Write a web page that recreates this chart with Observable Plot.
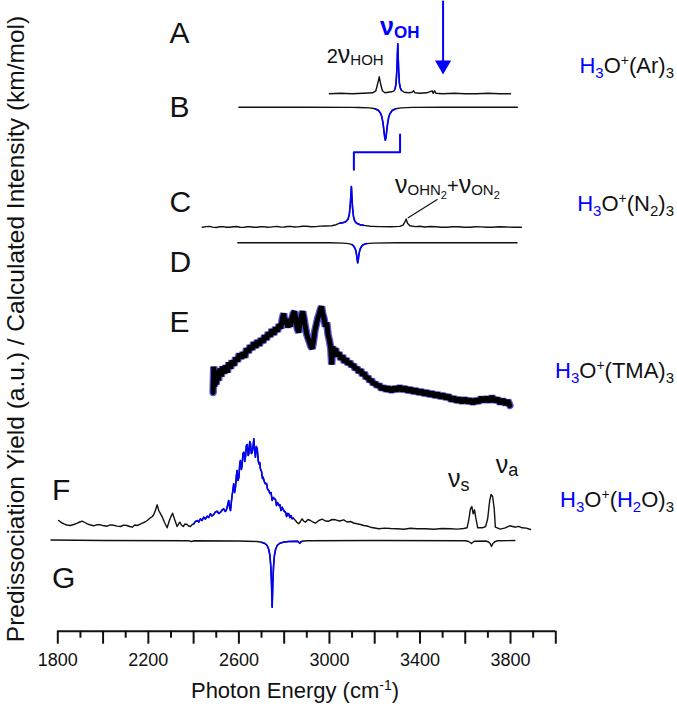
<!DOCTYPE html>
<html>
<head>
<meta charset="utf-8">
<script src="https://cdn.jsdelivr.net/npm/d3@7"></script>
<script src="https://cdn.jsdelivr.net/npm/@observablehq/plot@0.6"></script>
<style>
  html, body { margin: 0; padding: 0; background: #fff; }
  #chart svg { display: block; }
</style>
</head>
<body>
<div id="chart"></div>
<script>
// ---------------- DATA (wavenumber cm^-1, intensity a.u.) ----------------
// A: H3O+(Ar)3 experiment
const specA = [[3000,0],[3050,0.5],[3100,0],[3150,0.5],[3190,1],[3205,3],[3213,10],[3220,17],[3227,9],[3234,3],[3245,1],[3260,1.5],[3275,2],[3285,3],[3290,5],[3294,10],[3298,24],[3300,38],[3302,50],[3304,36],[3306,22],[3309,11],[3313,6],[3318,3.5],[3330,1.5],[3350,1],[3365,1.5],[3372,3],[3378,1],[3400,0.5],[3430,1],[3454,3],[3458,0.5],[3465,3],[3470,0.5],[3500,0],[3550,0.5],[3600,0],[3650,0],[3700,0.5],[3750,0],[3800,0]];
// B: H3O+(Ar)3 calculated
const specB = [[2600,0],[2900,0],[3100,-0.2],[3130,-0.3],[3177,-0.7],[3202,-1.6],[3217,-3.3],[3227,-6.6],[3232,-10],[3237,-16.5],[3242,-26],[3244,-30],[3247,-33],[3250,-30],[3252,-26],[3257,-16.5],[3262,-10],[3267,-6.6],[3277,-3.3],[3292,-1.6],[3317,-0.7],[3367,-0.2],[3500,0],[3830,0]];
// C: H3O+(N2)3 experiment
const specC = [[2438,0],[2455,0.6],[2470,0.8],[2485,0.1],[2500,-0.3],[2515,0.4],[2530,0.6],[2545,-0.1],[2560,0],[2575,0.5],[2590,0.7],[2605,0],[2620,-0.2],[2635,0.4],[2650,0.5],[2665,-0.1],[2680,0],[2695,0.5],[2710,0.6],[2725,0],[2740,0.1],[2755,0.6],[2770,0.7],[2785,0.1],[2800,0.2],[2815,0.7],[2830,0.8],[2845,0.2],[2860,0.3],[2880,0.9],[2900,0.9],[2920,0.4],[2940,0.6],[2960,1.1],[2980,1.2],[3010,1.5],[3030,2.5],[3045,4],[3060,4.5],[3072,5.5],[3082,8],[3088,13],[3092,22],[3095,33],[3097,40.7],[3099,32],[3102,20],[3106,11],[3112,6],[3120,4],[3135,2.5],[3152,1.8],[3180,1],[3220,0.6],[3270,0.5],[3310,0.8],[3325,2],[3333,5],[3339,8.3],[3345,4],[3355,1.5],[3380,0.6],[3400,0.9],[3420,0.2],[3445,0.7],[3470,0.5],[3495,-0.1],[3520,0],[3545,0.5],[3570,0.4],[3595,-0.1],[3620,0],[3645,0.5],[3670,0.3],[3695,-0.1],[3720,0],[3750,0.4],[3780,0.2],[3815,-0.1],[3848,0]];
// D: H3O+(N2)3 calculated
const specD = [[2595,0],[3000,0],[3060,-0.3],[3085,-0.8],[3100,-1.8],[3108,-3.5],[3113,-5.5],[3117,-8.5],[3120,-12],[3122,-16],[3125,-20],[3128,-16],[3130,-12],[3133,-8.5],[3137,-5.5],[3142,-3.5],[3150,-1.8],[3165,-0.8],[3190,-0.3],[3300,0],[3829,0]];
// E: H3O+(TMA)3 experiment
const specE = [[2486,19],[2489,45],[2492,25],[2496,41],[2500,27],[2505,40],[2510,31],[2516,43],[2522,35],[2528,45],[2535,38],[2542,46],[2549,39],[2556,49],[2563,43],[2570,51],[2578,46],[2586,54],[2594,50],[2602,58],[2610,53],[2618,59],[2626,54],[2634,63],[2642,59],[2650,66],[2658,62],[2666,69],[2674,64],[2682,71],[2690,66],[2698,73],[2706,69],[2714,76],[2722,72],[2730,79],[2738,75],[2746,82],[2754,77],[2762,84],[2770,80],[2778,87],[2785,83],[2792,93],[2798,98],[2804,87],[2810,93],[2816,84],[2822,91],[2828,85],[2834,93],[2840,98],[2846,100],[2852,91],[2858,83],[2864,79],[2870,89],[2876,96],[2882,100],[2888,93],[2894,84],[2900,77],[2906,73],[2912,69],[2918,65],[2924,63],[2930,71],[2936,81],[2942,87],[2948,93],[2954,97],[2960,102],[2965,105],[2970,98],[2976,93],[2982,85],[2988,89],[2994,77],[3000,71],[3006,63],[3010,47],[3014,65],[3020,59],[3027,63],[3034,55],[3042,59],[3050,52],[3058,56],[3066,49],[3074,53],[3082,47],[3090,50],[3098,45],[3106,47],[3114,42],[3122,44],[3130,39],[3138,42],[3146,36],[3154,39],[3162,33],[3170,35],[3178,30],[3186,32],[3194,27],[3202,29],[3210,25],[3220,27],[3230,22],[3240,25],[3250,21],[3262,24],[3274,20],[3286,24],[3298,21],[3310,25],[3322,21],[3334,24],[3346,20],[3358,23],[3370,19],[3382,22],[3394,18],[3406,21],[3418,17],[3430,20],[3442,16],[3454,19],[3466,15],[3478,18],[3490,14],[3502,17],[3514,13],[3526,16],[3538,11],[3550,14],[3562,10],[3574,13],[3586,9],[3598,13],[3610,9],[3622,12],[3634,8],[3646,12],[3658,9],[3670,14],[3682,10],[3694,14],[3706,10],[3718,15],[3730,10],[3742,13],[3754,8],[3766,12],[3778,7],[3788,11],[3797,6]];
// F: H3O+(H2O)3 experiment
const specF = [[1804,5],[1815,3],[1827,1.7],[1840,0.5],[1856,0],[1870,1],[1886,2.3],[1897,3.5],[1908,4.3],[1919,3],[1930,1.7],[1945,0.5],[1959,-0.3],[1974,0.8],[1989,0.7],[2003,-0.3],[2018,-0.7],[2032,0.6],[2047,0.3],[2062,-0.6],[2077,-1],[2091,0.4],[2106,0],[2118,-1],[2129,-1.7],[2140,0.5],[2151,0],[2162,1.2],[2173,2.3],[2185,3.5],[2195,5],[2209,7.7],[2218,9],[2224,11],[2232,15.7],[2239,20.7],[2246,15],[2254,11.7],[2262,8.3],[2271,3.3],[2283,-2.3],[2293,5],[2300,9],[2307,12.3],[2315,6.7],[2327,-1],[2339,3.3],[2346,0.5],[2354,-1],[2362,1.5],[2371,1],[2378,-0.5],[2386,-1],[2394,1],[2401,1.7],[2408,4],[2416,5],[2423,3.5],[2430,6.7],[2437,5],[2445,8.3],[2452,6.5],[2460,9.3],[2467,8],[2474,11.7],[2481,9.5],[2489,11],[2496,13.5],[2504,14.3],[2511,12],[2519,13.3],[2526,15.5],[2533,16.7],[2540,14],[2545,15.7],[2550,20],[2555,25],[2559,18],[2563,15],[2567,24],[2570,30],[2574,36],[2577,41.7],[2581,33],[2585,38.3],[2589,50],[2592,55],[2596,45],[2600,48.3],[2604,62],[2607,65],[2611,56],[2614,60],[2618,72],[2622,73.3],[2626,64],[2629,68.3],[2633,80],[2637,81],[2641,70],[2644,71.7],[2648,84],[2651,82.3],[2655,72],[2659,73.3],[2663,80],[2666,86.7],[2670,74],[2673,68.3],[2677,79],[2681,76.7],[2685,66],[2688,61.7],[2692,63],[2695,56.7],[2700,54],[2704,47],[2707,48.3],[2712,44],[2717,41.7],[2722,42],[2727,36],[2732,35],[2737,32],[2742,33],[2747,25],[2752,28],[2757,27],[2762,25.7],[2766,20],[2771,23],[2776,20],[2781,21],[2786,15],[2791,18.3],[2796,16],[2801,14],[2806,13.3],[2811,9],[2815,12],[2820,11.7],[2825,8],[2830,10],[2835,6.7],[2840,7.5],[2850,5],[2857,3],[2864,1.7],[2872,4],[2879,6.7],[2886,4.5],[2894,3.3],[2905,6],[2916,5],[2927,3.5],[2938,2.3],[2953,5],[2968,6.3],[2982,4.5],[2997,4.3],[3012,6],[3027,5.7],[3045,4.5],[3063,5.7],[3078,3.5],[3093,4],[3107,2.5],[3122,1.7],[3137,1],[3152,0],[3166,-0.5],[3181,-1.7],[3200,-2.5],[3218,-3.3],[3245,-2.6],[3270,-3],[3300,-3.2],[3328,-3.7],[3358,-2.8],[3387,-3.3],[3425,-3.2],[3461,-3.7],[3498,-3],[3535,-3.3],[3565,-3.6],[3593,-3],[3608,-2.3],[3615,5],[3623,16.7],[3629,19],[3635,11.7],[3641,15.7],[3646,8.3],[3655,-2.3],[3675,-2.3],[3690,-1],[3699,6.7],[3708,25],[3714,31],[3721,29],[3728,16.7],[3733,-1.7],[3755,-3.7],[3777,-2.3],[3796,-0.3],[3810,-1],[3822,-1.7],[3836,-0.8],[3851,-2.3],[3870,-2.6],[3888,-4]];
// G: H3O+(H2O)3 calculated
const specG = [[1770,0.5],[2000,0],[2380,-0.3],[2390,-1],[2400,-0.3],[2600,-0.5],[2680,-1],[2700,-1.8],[2715,-3],[2725,-5],[2732,-9],[2737,-15],[2741,-26],[2744,-42],[2747,-66.7],[2750,-42],[2753,-26],[2757,-15],[2762,-9],[2769,-5],[2779,-3],[2794,-1.8],[2820,-1],[2860,-0.8],[2866,-2],[2869,-2.8],[2873,-1.5],[2880,-0.7],[2900,-0.3],[3200,0],[3600,-0.2],[3615,-1],[3622,-2],[3627,-3],[3632,-2],[3640,-0.8],[3690,-0.5],[3703,-1.5],[3710,-3],[3716,-6],[3722,-3],[3729,-1.5],[3740,-0.3],[3819,0]];

// Wavenumber windows drawn in blue (the highlighted bands)
const blueBands = {A: [3289, 3318], B: [3200, 3295], C: [3040, 3156], D: [3090, 3166], F: [2398, 2842], G: [2690, 2895]};
// Annotation anchors (cm^-1)
const arrowWn = 3502;
const bracketWn = [3312, 3108];
const combWn = [3348, 3476];
const tickMajor = d3.range(1800, 4001, 200);
const tickMinor = d3.range(1900, 4000, 200);
const tickLabels = ["1800", "2200", "2600", "3000", "3400", "3800"];

// ---------------- LAYOUT ----------------
const FONT = "'Liberation Sans', Arial, Helvetica, sans-serif";
const BLUE = "#0000ff";
const offset = {A: 537.4, B: 524, C: 404, D: 388.4, E: 219.7, F: 105.7, G: 90.7};

const rows = (spec, key) => spec.map(([x, y]) => ({x, y: y + offset[key]}));
const band = (spec, key) => rows(spec, key).filter(d => d.x >= blueBands[key][0] && d.x <= blueBands[key][1]);

const lineOpts = {x: "x", y: "y", stroke: "#111", strokeWidth: 1.4, curve: "linear"};
const blueOpts = {...lineOpts, stroke: BLUE, strokeWidth: 1.6};

const marks = [];
// E: thick noisy band, blue fringe with black core
marks.push(Plot.line(rows(specE, "E"), {x: "x", y: "y", stroke: "#3a3ad8", strokeWidth: 7.5, strokeOpacity: 0.85, strokeLinejoin: "miter"}));
marks.push(Plot.line(rows(specE, "E"), {x: "x", y: "y", stroke: "#000", strokeWidth: 5, strokeLinejoin: "miter"}));
for (const [key, spec] of [["A", specA], ["B", specB], ["C", specC], ["D", specD], ["F", specF], ["G", specG]]) {
  marks.push(Plot.line(rows(spec, key), lineOpts));
  marks.push(Plot.line(band(spec, key), blueOpts));
}
// Arrow above A
marks.push(Plot.ruleX([arrowWn], {x: d => d, y1: 630, y2: 568, stroke: BLUE, strokeWidth: 2}));
marks.push(Plot.dot([arrowWn], {x: d => d, y: 566, symbol: "triangle", rotate: 180, r: 6, fill: BLUE, stroke: null}));
// Bracket linking A/B band to C band
marks.push(Plot.line([
  {x: bracketWn[0], y: 496.7}, {x: bracketWn[0], y: 479},
  {x: bracketWn[1], y: 479}, {x: bracketWn[1], y: 461.4}
], {x: "x", y: "y", stroke: BLUE, strokeWidth: 2}));
// Pointer to the combination band of C
marks.push(Plot.line([{x: combWn[0], y: 413.4}, {x: combWn[1], y: 431.7}], {x: "x", y: "y", stroke: "#111", strokeWidth: 1.2}));
// X axis
marks.push(Plot.ruleY([0], {stroke: "#111", strokeWidth: 2}));
marks.push(Plot.axisX(tickMajor, {tickSize: 13, tickPadding: 9, strokeWidth: 2, stroke: "#111",
  tickFormat: d => (tickLabels.includes(String(d)) ? String(d) : ""), fontSize: 18, label: null}));
marks.push(Plot.axisX(tickMinor, {tickSize: 7, strokeWidth: 2, stroke: "#111", tickFormat: () => "", label: null}));

const chart = Plot.plot({
  width: 677, height: 704,
  marginLeft: 57.3, marginRight: 121.7, marginTop: 0.7, marginBottom: 73.3,
  x: {domain: [1800, 4000], label: null},
  y: {domain: [0, 630], axis: null},
  style: {fontFamily: FONT, color: "#111", background: "#fff", overflow: "visible"},
  marks
});
document.getElementById("chart").append(chart);

// ---------------- TEXT ----------------
const svg = d3.select(chart);
function rich(x, y, parts, {size = 22, anchor = "start", weight = null, fill = "#111", transform = null} = {}) {
  const t = svg.append("text").attr("x", x).attr("y", y)
    .attr("font-family", FONT).attr("font-size", size).attr("text-anchor", anchor).attr("fill", fill);
  if (weight) t.attr("font-weight", weight);
  if (transform) t.attr("transform", transform);
  let shift = 0;
  for (const p of parts) {
    const target = p.shift || 0;
    const ts = t.append("tspan").text(p.t).attr("dy", target - shift);
    shift = target;
    if (p.size) ts.attr("font-size", p.size);
    if (p.fill) ts.attr("fill", p.fill);
  }
  return t;
}

// Panel letters
const letters = [["A", 169.5, 43.3], ["B", 169.5, 117.3], ["C", 169.5, 211.7], ["D", 169.5, 272], ["E", 169.5, 331.7], ["F", 52, 500], ["G", 52, 588.3]];
for (const [l, x, y] of letters) rich(x, y, [{t: l}], {size: 30});

// Species labels (right)
const sub = 5, sup = -8;
rich(674, 72.7, [{t: "H", fill: BLUE}, {t: "3", fill: BLUE, size: 15, shift: sub}, {t: "O"}, {t: "+", size: 14, shift: sup}, {t: "(Ar)"}, {t: "3", size: 15, shift: sub}], {anchor: "end"});
rich(674, 210.7, [{t: "H", fill: BLUE}, {t: "3", fill: BLUE, size: 15, shift: sub}, {t: "O"}, {t: "+", size: 14, shift: sup}, {t: "(N"}, {t: "2", size: 15, shift: sub}, {t: ")"}, {t: "3", size: 15, shift: sub}], {anchor: "end"});
rich(674, 378.3, [{t: "H", fill: BLUE}, {t: "3", fill: BLUE, size: 15, shift: sub}, {t: "O"}, {t: "+", size: 14, shift: sup}, {t: "(TMA)"}, {t: "3", size: 15, shift: sub}], {anchor: "end"});
rich(674, 507.3, [{t: "H", fill: BLUE}, {t: "3", fill: BLUE, size: 15, shift: sub}, {t: "O"}, {t: "+", size: 14, shift: sup}, {t: "("}, {t: "H", fill: BLUE}, {t: "2", fill: BLUE, size: 15, shift: sub}, {t: "O)"}, {t: "3", size: 15, shift: sub}], {anchor: "end"});

// Band labels
rich(380, 35, [{t: "ν", size: 25}, {t: "OH", size: 17, shift: 2.5}], {weight: "bold", fill: BLUE});
rich(326.7, 63.3, [{t: "2", size: 20}, {t: "ν", size: 25}, {t: "HOH", size: 15, shift: 2}]);
rich(395, 193.3, [{t: "ν", size: 25}, {t: "OHN", size: 15, shift: 2}, {t: "2", size: 11, shift: 6}, {t: "+", size: 20, shift: 0}, {t: "ν", size: 25}, {t: "ON", size: 15, shift: 2}, {t: "2", size: 11, shift: 6}]);
rich(448, 487, [{t: "ν", size: 25}, {t: "s", size: 18, shift: 4}]);
rich(495.7, 473.3, [{t: "ν", size: 25}, {t: "a", size: 18, shift: 3}]);

// Axis titles
rich(295, 698, [{t: "Photon Energy (cm"}, {t: "-1", size: 14, shift: -8}, {t: ")"}], {anchor: "middle"});
rich(0, 0, [{t: "Predissociation Yield (a.u.) / Calculated Intensity (km/mol)"}], {anchor: "middle", size: 24.5, transform: "translate(24,329) rotate(-90)"});
</script>
</body>
</html>
